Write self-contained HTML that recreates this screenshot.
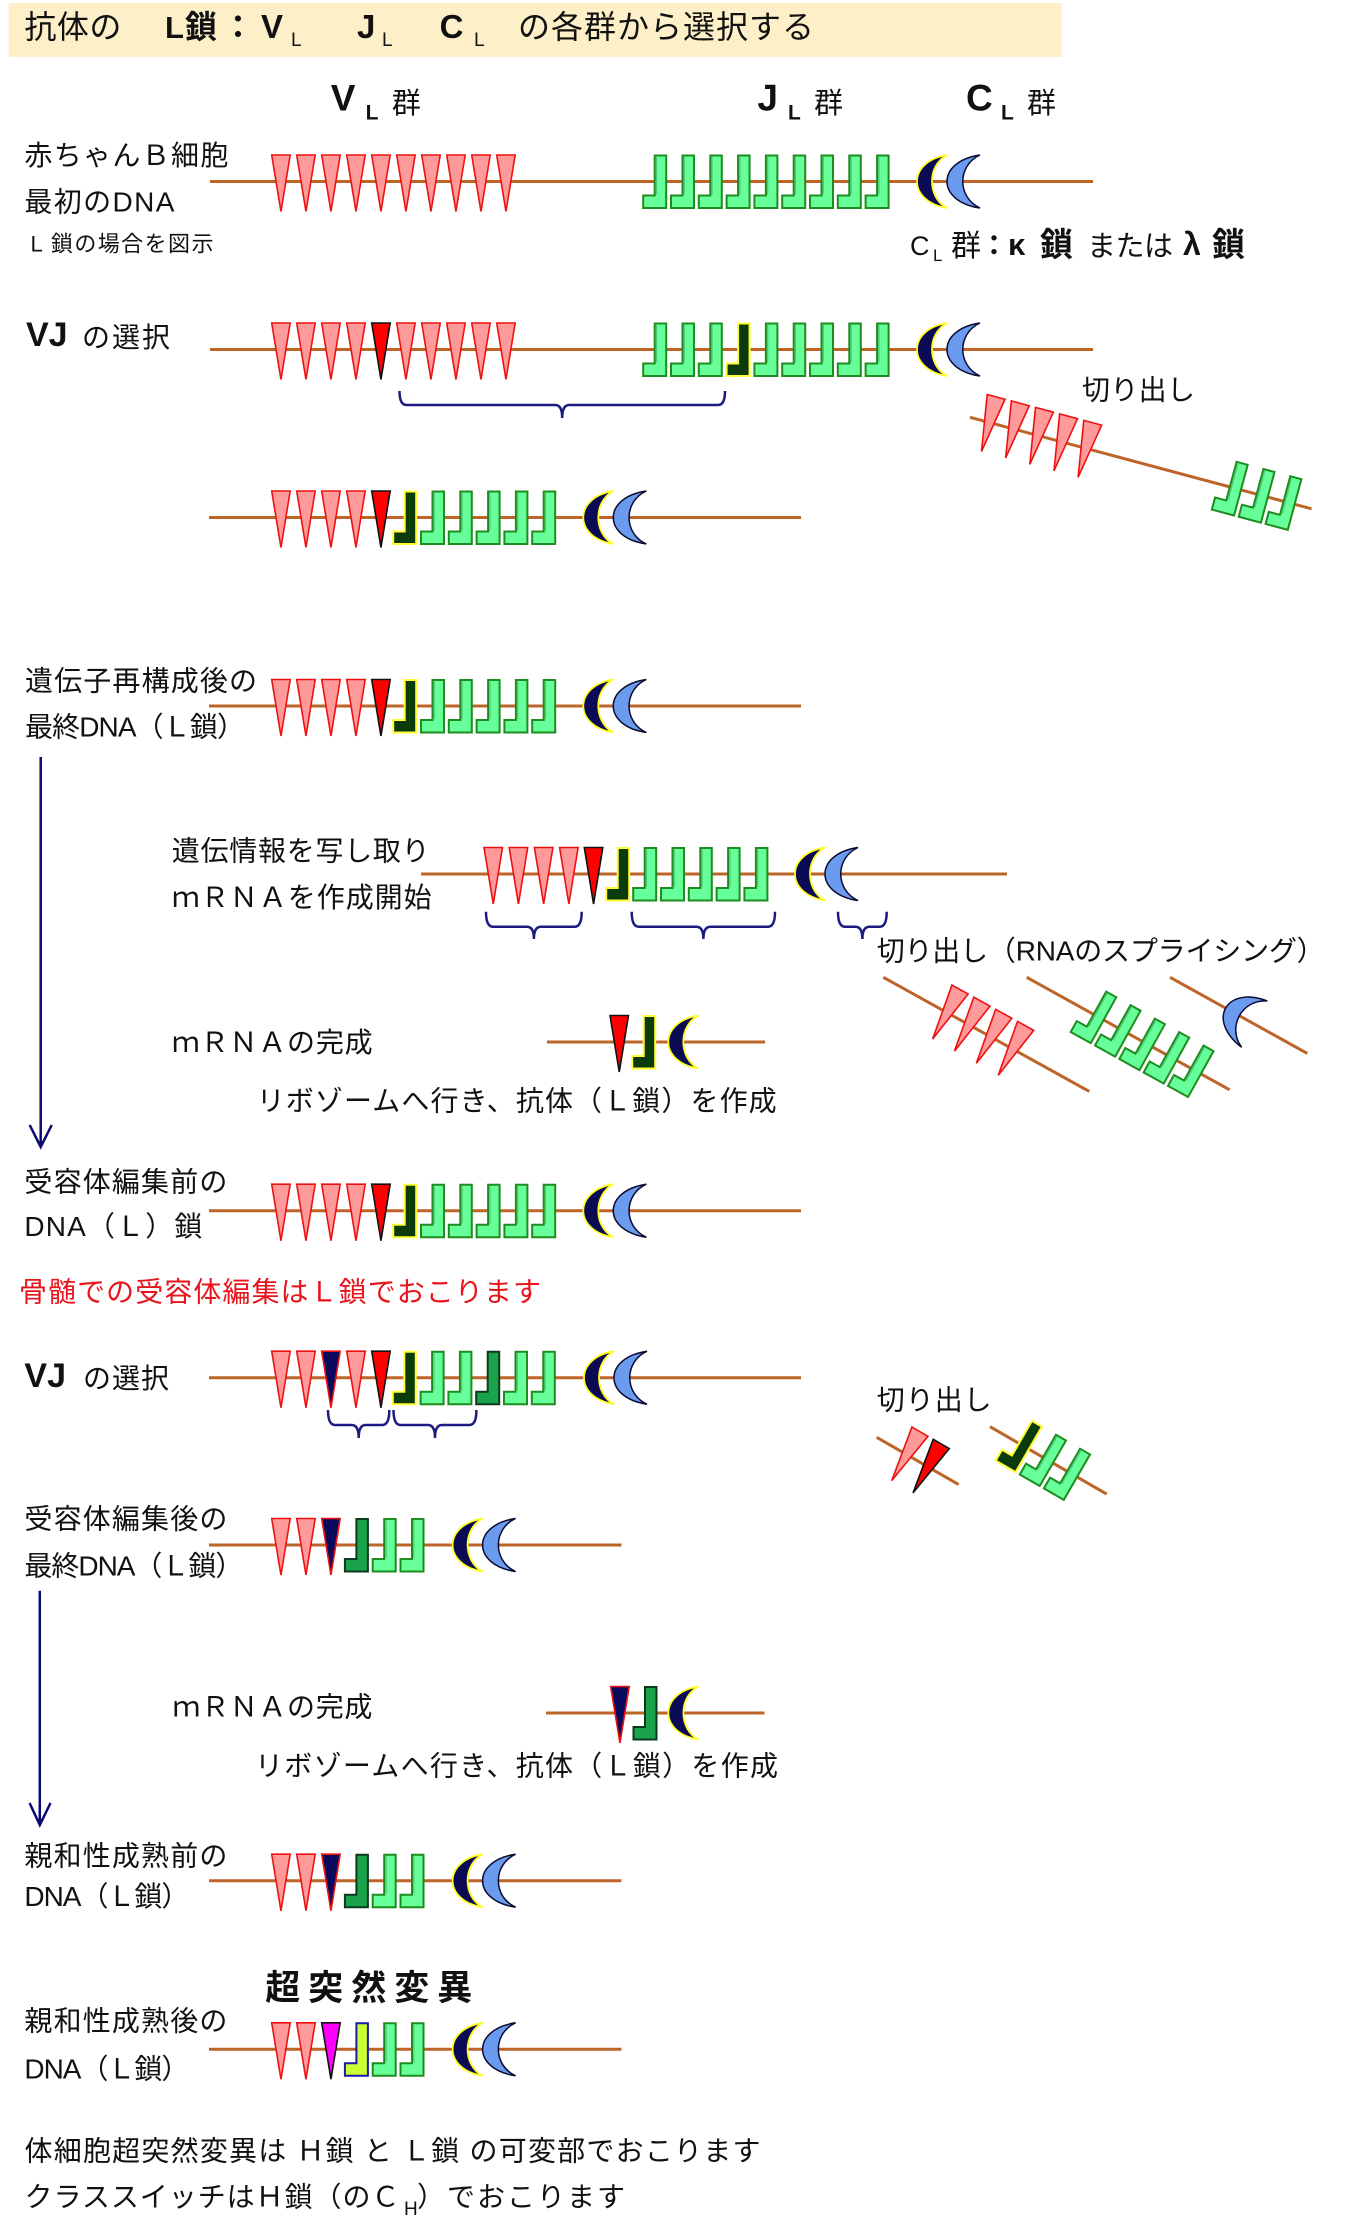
<!DOCTYPE html>
<html><head><meta charset="utf-8">
<style>
html,body{margin:0;padding:0;background:#fff;width:1365px;height:2236px;overflow:hidden}
svg{display:block}
text{font-family:"Liberation Sans","Noto Sans CJK JP",sans-serif;fill:#111;font-size:28px}
.b{font-weight:bold}
</style></head>
<body>
<svg width="1365" height="2236" viewBox="0 0 1365 2236" xmlns="http://www.w3.org/2000/svg">
<defs>
<g id="tp"><polygon points="0,-26.5 18.5,-26.5 9.25,30" fill="#ff9a9a" stroke="#ee1111" stroke-width="1.6"/></g>
<g id="tr"><polygon points="0,-26.5 18.5,-26.5 9.25,30" fill="#ff0000" stroke="#111" stroke-width="1.6"/></g>
<g id="tn"><polygon points="0,-26.5 18.5,-26.5 9.25,30" fill="#0a0a5c" stroke="#ee1111" stroke-width="1.6"/></g>
<g id="tm"><polygon points="0,-26.5 18.5,-26.5 9.25,30" fill="#ff00ff" stroke="#111" stroke-width="1.6"/></g>
<g id="jg"><path d="M12,-26 H23.5 V26.5 H0.5 V14 H12 Z" fill="#66ff99" stroke="#1e8c1e" stroke-width="2"/><line x1="13.8" y1="-24.5" x2="13.8" y2="13" stroke="#4cc87a" stroke-width="1.2"/></g>
<g id="jd"><path d="M12,-26 H23.5 V26.5 H0.5 V14 H12 Z" fill="#0b3b0b" stroke="#ffff33" stroke-width="2"/></g>
<g id="jm"><path d="M12,-26 H23.5 V26.5 H0.5 V14 H12 Z" fill="#1aa34a" stroke="#0b3b1b" stroke-width="2"/></g>
<g id="jy"><path d="M12,-26 H23.5 V26.5 H0.5 V14 H12 Z" fill="#ccff33" stroke="#1a1aaa" stroke-width="2"/></g>
<g id="cd"><path d="M30,-26.5 C-10,-20 -10,20 30,26.5 C10,16 10,-16 30,-26.5 Z" fill="#0a0a55" stroke="#ffff22" stroke-width="1.8"/></g>
<g id="cl"><path d="M63,-26.5 C19,-20 19,20 63,26.5 C40,16 40,-16 63,-26.5 Z" fill="#6a9bef" stroke="#0a0a30" stroke-width="1.5"/></g>
<g id="cc"><use href="#cd"/><use href="#cl"/></g>
</defs>

<!-- Title -->
<rect x="8.7" y="3" width="1053" height="54" fill="#fdf0c8"/>
<text x="24.4" y="38" style="font-size:32px" textLength="97">抗体の</text>
<text x="165" y="38" class="b" style="font-size:31px">L</text>
<text x="185" y="38" class="b" style="font-size:32px">鎖</text>
<text x="222" y="38" class="b" style="font-size:32px">：</text>
<text x="261" y="38" class="b" style="font-size:33px">V</text>
<text x="291" y="46" style="font-size:19px">L</text>
<text x="357" y="38" class="b" style="font-size:33px">J</text>
<text x="382" y="46" style="font-size:19px">L</text>
<text x="439.6" y="38" class="b" style="font-size:33px">C</text>
<text x="474" y="46" style="font-size:19px">L</text>
<text x="518" y="38" style="font-size:32px" textLength="296">の各群から選択する</text>

<!-- group headers -->
<text x="330.8" y="110.7" class="b" style="font-size:37px">V</text>
<text x="365.6" y="119.6" class="b" style="font-size:21px">L</text>
<text x="391.7" y="113" style="font-size:29px">群</text>
<text x="757.4" y="110.7" class="b" style="font-size:37px">J</text>
<text x="788" y="119.6" class="b" style="font-size:21px">L</text>
<text x="814" y="113" style="font-size:29px">群</text>
<text x="966" y="110.7" class="b" style="font-size:37px">C</text>
<text x="1001" y="119.6" class="b" style="font-size:21px">L</text>
<text x="1027" y="113" style="font-size:29px">群</text>

<!-- Row 1 labels -->
<text x="24.4" y="165" textLength="204">赤ちゃんＢ細胞</text>
<text x="24.4" y="211.5" textLength="150">最初のDNA</text>
<text x="30.5" y="251.5" style="font-size:22px" textLength="183">L 鎖の場合を図示</text>

<text x="910" y="255" style="font-size:27px">C</text>
<text x="933" y="261" style="font-size:17px">L</text>
<text x="951" y="256" style="font-size:30px">群</text>
<text x="980" y="255" class="b" style="font-size:28px">：</text>
<text x="1008" y="255" class="b" style="font-size:31px">κ</text>
<text x="1040" y="256" class="b" style="font-size:33px">鎖</text>
<text x="1087" y="256" style="font-size:29px" textLength="86">または</text>
<text x="1183" y="255" class="b" style="font-size:32px">λ</text>
<text x="1212" y="256" class="b" style="font-size:33px">鎖</text>

<!-- Row 1 -->
<g transform="translate(0,181.5)">
<line x1="210" y1="0" x2="1093" y2="0" stroke="#bd6428" stroke-width="3"/>
<use href="#tp" x="271.7"/><use href="#tp" x="296.7"/><use href="#tp" x="321.7"/><use href="#tp" x="346.7"/><use href="#tp" x="371.7"/>
<use href="#tp" x="396.7"/><use href="#tp" x="421.7"/><use href="#tp" x="446.7"/><use href="#tp" x="471.7"/><use href="#tp" x="496.7"/>
<use href="#jg" x="642.7"/><use href="#jg" x="670.5"/><use href="#jg" x="698.3"/><use href="#jg" x="726.1"/><use href="#jg" x="753.9"/>
<use href="#jg" x="781.7"/><use href="#jg" x="809.5"/><use href="#jg" x="837.3"/><use href="#jg" x="865.1"/>
<use href="#cc" x="917"/>
</g>

<!-- Row 2 VJ selection -->
<text x="26" y="346" class="b" style="font-size:34px">VJ</text>
<text x="82" y="347" textLength="88">の選択</text>
<g transform="translate(0,349.5)">
<line x1="210" y1="0" x2="1093" y2="0" stroke="#bd6428" stroke-width="3"/>
<use href="#tp" x="271.7"/><use href="#tp" x="296.7"/><use href="#tp" x="321.7"/><use href="#tp" x="346.7"/><use href="#tr" x="371.7"/>
<use href="#tp" x="396.7"/><use href="#tp" x="421.7"/><use href="#tp" x="446.7"/><use href="#tp" x="471.7"/><use href="#tp" x="496.7"/>
<use href="#jg" x="642.7"/><use href="#jg" x="670.5"/><use href="#jg" x="698.3"/><use href="#jd" x="726.1"/><use href="#jg" x="753.9"/>
<use href="#jg" x="781.7"/><use href="#jg" x="809.5"/><use href="#jg" x="837.3"/><use href="#jg" x="865.1"/>
<use href="#cc" x="917"/>
</g>
<path d="M399.5,391 Q399.5,405 406.5,405 H555.2 Q562.2,405 562.2,418 M562.2,418 Q562.2,405 569.2,405 H718 Q725,405 725,391" fill="none" stroke="#1b1b80" stroke-width="2.5"/>

<text x="1082" y="399.5" textLength="113">切り出し</text>
<g transform="translate(970,417.3) rotate(15)">
<line x1="0" y1="0" x2="353.6" y2="0" stroke="#bd6428" stroke-width="3"/>
<use href="#tp" x="10.7"/><use href="#tp" x="35.7"/><use href="#tp" x="60.7"/><use href="#tp" x="85.7"/><use href="#tp" x="110.7"/>
<use href="#jg" x="257"/><use href="#jg" x="284.8"/><use href="#jg" x="312.6"/>
</g>

<!-- Row 3 -->
<g transform="translate(0,517.5)">
<line x1="209" y1="0" x2="801" y2="0" stroke="#bd6428" stroke-width="3"/>
<use href="#tp" x="271.7"/><use href="#tp" x="296.7"/><use href="#tp" x="321.7"/><use href="#tp" x="346.7"/><use href="#tr" x="371.7"/>
<use href="#jd" x="392.7"/><use href="#jg" x="420.5"/><use href="#jg" x="448.3"/><use href="#jg" x="476.1"/><use href="#jg" x="503.9"/><use href="#jg" x="531.7"/>
<use href="#cc" x="583.3"/>
</g>

<!-- Row 4 -->
<text x="25" y="690.5" textLength="232">遺伝子再構成後の</text>
<text x="25" y="736.5" textLength="220">最終DNA（Ｌ鎖）</text>
<g transform="translate(0,706)">
<line x1="209" y1="0" x2="801" y2="0" stroke="#bd6428" stroke-width="3"/>
<use href="#tp" x="271.7"/><use href="#tp" x="296.7"/><use href="#tp" x="321.7"/><use href="#tp" x="346.7"/><use href="#tr" x="371.7"/>
<use href="#jd" x="392.7"/><use href="#jg" x="420.5"/><use href="#jg" x="448.3"/><use href="#jg" x="476.1"/><use href="#jg" x="503.9"/><use href="#jg" x="531.7"/>
<use href="#cc" x="583.3"/>
</g>

<!-- arrow 1 -->
<line x1="40.7" y1="757" x2="40.7" y2="1146" stroke="#0a0a6e" stroke-width="2.5"/>
<polyline points="29.7,1125 40.7,1147 51.7,1125" fill="none" stroke="#0a0a6e" stroke-width="2.5"/>

<!-- mRNA row -->
<text x="171.7" y="860.5" textLength="258">遺伝情報を写し取り</text>
<text x="171.7" y="907" textLength="260">ｍＲＮＡを作成開始</text>
<g transform="translate(0,874)">
<line x1="421" y1="0" x2="1007" y2="0" stroke="#bd6428" stroke-width="3"/>
<use href="#tp" x="484"/><use href="#tp" x="509.2"/><use href="#tp" x="534.4"/><use href="#tp" x="559.6"/><use href="#tr" x="584.3"/>
<use href="#jd" x="605.7"/><use href="#jg" x="632.7"/><use href="#jg" x="660.5"/><use href="#jg" x="688.3"/><use href="#jg" x="716.1"/><use href="#jg" x="743.9"/>
<use href="#cc" x="795"/>
</g>
<g fill="none" stroke="#1b1b80" stroke-width="2.5">
<path d="M486,911.7 Q486,926.7 493,926.7 H526.9 Q533.9,926.7 533.9,939 M533.9,939 Q533.9,926.7 540.9,926.7 H574.7 Q581.7,926.7 581.7,911.7"/>
<path d="M631.7,911.7 Q631.7,926.7 638.7,926.7 H696.4 Q703.4,926.7 703.4,939 M703.4,939 Q703.4,926.7 710.4,926.7 H768 Q775,926.7 775,911.7"/>
<path d="M838,911.7 Q838,926.7 845,926.7 H855.4 Q862.4,926.7 862.4,939 M862.4,939 Q862.4,926.7 869.4,926.7 H879.7 Q886.7,926.7 886.7,911.7"/>
</g>
<text x="876.7" y="960.5" textLength="448">切り出し（RNAのスプライシング）</text>

<g transform="translate(883.3,977.3) rotate(29)">
<line x1="0" y1="0" x2="235.5" y2="0" stroke="#bd6428" stroke-width="3"/>
<use href="#tp" x="63.8"/><use href="#tp" x="88.8"/><use href="#tp" x="113.8"/><use href="#tp" x="138.8"/>
</g>
<g transform="translate(1026.7,977.3) rotate(29)">
<line x1="0" y1="0" x2="232" y2="0" stroke="#bd6428" stroke-width="3"/>
<use href="#jg" x="64.5"/><use href="#jg" x="92.3"/><use href="#jg" x="120.1"/><use href="#jg" x="147.9"/><use href="#jg" x="175.7"/>
</g>
<g transform="translate(1170,977.3) rotate(29)">
<line x1="0" y1="0" x2="157" y2="0" stroke="#bd6428" stroke-width="3"/>
<use href="#cl" x="33.6"/>
</g>

<!-- mRNA complete -->
<text x="171.7" y="1052" textLength="201">ｍＲＮＡの完成</text>
<g transform="translate(0,1042)">
<line x1="547" y1="0" x2="765" y2="0" stroke="#bd6428" stroke-width="3"/>
<use href="#tr" x="610"/><use href="#jd" x="631.7"/><use href="#cd" x="668.3"/>
</g>
<text x="256.7" y="1110.5" textLength="520">リボゾームへ行き、抗体（Ｌ鎖）を作成</text>

<!-- before receptor editing -->
<text x="24.4" y="1191.5" textLength="203">受容体編集前の</text>
<text x="24.4" y="1236" textLength="178">DNA（Ｌ）鎖</text>
<g transform="translate(0,1210.7)">
<line x1="209" y1="0" x2="801" y2="0" stroke="#bd6428" stroke-width="3"/>
<use href="#tp" x="271.7"/><use href="#tp" x="296.7"/><use href="#tp" x="321.7"/><use href="#tp" x="346.7"/><use href="#tr" x="371.7"/>
<use href="#jd" x="392.7"/><use href="#jg" x="420.5"/><use href="#jg" x="448.3"/><use href="#jg" x="476.1"/><use href="#jg" x="503.9"/><use href="#jg" x="531.7"/>
<use href="#cc" x="583.3"/>
</g>

<text x="19" y="1301.5" textLength="522" style="fill:#e8141c">骨髄での受容体編集はＬ鎖でおこります</text>

<!-- VJ selection 2 -->
<text x="24.4" y="1387" class="b" style="font-size:34px">VJ</text>
<text x="83" y="1388" textLength="86">の選択</text>
<g transform="translate(0,1377.7)">
<line x1="209" y1="0" x2="801" y2="0" stroke="#bd6428" stroke-width="3"/>
<use href="#tp" x="271.7"/><use href="#tp" x="296.7"/><use href="#tn" x="321.7"/><use href="#tp" x="346.7"/><use href="#tr" x="371.7"/>
<use href="#jd" x="392.3"/><use href="#jg" x="420.1"/><use href="#jg" x="447.9"/><use href="#jm" x="475.7"/><use href="#jg" x="503.5"/><use href="#jg" x="531.3"/>
<use href="#cc" x="584"/>
</g>
<g fill="none" stroke="#1b1b80" stroke-width="2.5">
<path d="M328,1410 Q328,1425 335,1425 H351.7 Q358.7,1425 358.7,1438 M358.7,1438 Q358.7,1425 365.7,1425 H382.3 Q389.3,1425 389.3,1410"/>
<path d="M393.5,1410 Q393.5,1425 400.5,1425 H428 Q435,1425 435,1438 M435,1438 Q435,1425 442,1425 H469.4 Q476.4,1425 476.4,1410"/>
</g>

<text x="876.7" y="1409.5" textLength="115">切り出し</text>
<g transform="translate(876.7,1437.3) rotate(30)">
<line x1="0" y1="0" x2="94.6" y2="0" stroke="#bd6428" stroke-width="3"/>
<use href="#tp" x="25.4"/><use href="#tr" x="50"/>
</g>
<g transform="translate(990,1426.7) rotate(30)">
<line x1="0" y1="0" x2="134.7" y2="0" stroke="#bd6428" stroke-width="3"/>
<use href="#jd" x="21.4"/><use href="#jg" x="49.2"/><use href="#jg" x="77"/>
</g>

<!-- after receptor editing -->
<text x="24.4" y="1528.5" textLength="203">受容体編集後の</text>
<text x="24.4" y="1575.5" textLength="219">最終DNA（Ｌ鎖）</text>
<g transform="translate(0,1545)">
<line x1="209" y1="0" x2="621.5" y2="0" stroke="#bd6428" stroke-width="3"/>
<use href="#tp" x="271.7"/><use href="#tp" x="296.7"/><use href="#tn" x="321.7"/>
<use href="#jm" x="344.4"/><use href="#jg" x="372.2"/><use href="#jg" x="400"/>
<use href="#cc" x="452.6"/>
</g>

<!-- arrow 2 -->
<line x1="39.8" y1="1590.7" x2="39.8" y2="1824" stroke="#0a0a6e" stroke-width="2.5"/>
<polyline points="29.6,1803 39.8,1825 50.5,1803" fill="none" stroke="#0a0a6e" stroke-width="2.5"/>

<text x="172.4" y="1716.5" textLength="200">ｍＲＮＡの完成</text>
<g transform="translate(0,1713)">
<line x1="546" y1="0" x2="764.5" y2="0" stroke="#bd6428" stroke-width="3"/>
<use href="#tn" x="610.7"/><use href="#jm" x="633"/><use href="#cd" x="668.4"/>
</g>
<text x="255" y="1775.5" textLength="523">リボゾームへ行き、抗体（Ｌ鎖）を作成</text>

<!-- before affinity maturation -->
<text x="24.4" y="1865.5" textLength="203">親和性成熟前の</text>
<text x="24.4" y="1906" textLength="165">DNA（Ｌ鎖）</text>
<g transform="translate(0,1880.7)">
<line x1="209" y1="0" x2="621.5" y2="0" stroke="#bd6428" stroke-width="3"/>
<use href="#tp" x="271.7"/><use href="#tp" x="296.7"/><use href="#tn" x="321.7"/>
<use href="#jm" x="344.4"/><use href="#jg" x="372.2"/><use href="#jg" x="400"/>
<use href="#cc" x="452.6"/>
</g>

<text x="265.3" y="2000" class="b" style="font-size:35px" textLength="207">超突然変異</text>

<!-- after affinity maturation -->
<text x="24.4" y="2030.5" textLength="203">親和性成熟後の</text>
<text x="24.4" y="2078.5" textLength="165">DNA（Ｌ鎖）</text>
<g transform="translate(0,2049.3)">
<line x1="209" y1="0" x2="621.5" y2="0" stroke="#bd6428" stroke-width="3"/>
<use href="#tp" x="271.7"/><use href="#tp" x="296.7"/><use href="#tm" x="321.7"/>
<use href="#jy" x="344.4"/><use href="#jg" x="372.2"/><use href="#jg" x="400"/>
<use href="#cc" x="452.6"/>
</g>

<text x="24.5" y="2160.5" textLength="736">体細胞超突然変異は Ｈ鎖 と Ｌ鎖 の可変部でおこります</text>
<text x="24.5" y="2206.5" textLength="375">クラススイッチはＨ鎖（のＣ</text>
<text x="404" y="2215" style="font-size:19px">H</text>
<text x="417" y="2206.5" textLength="208">）でおこります</text>
</svg>
</body></html>
